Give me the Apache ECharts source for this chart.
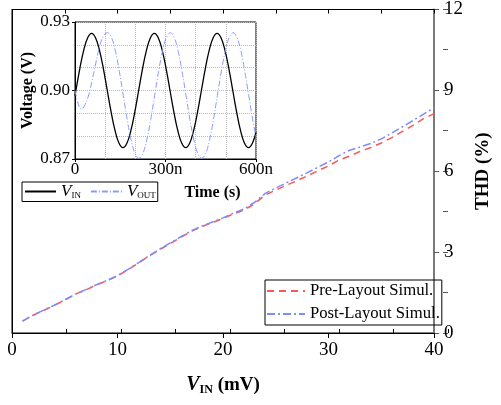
<!DOCTYPE html>
<html><head><meta charset="utf-8">
<script src="https://cdn.jsdelivr.net/npm/echarts@6/dist/echarts.min.js"></script>
<style>html,body{margin:0;padding:0;background:#fff}#c{width:501px;height:405px}</style>
</head><body><div id="c"></div>
<script>
// ---- data ----
const vinMv = [1,2,3,4,5,6,7,8,9,10,11,12,13,14,15,16,17,18,19,20,21,22,23,24,25,26,27,28,29,30,31,32,33,34,35,36,37,38,39,40];
const preLayoutTHD = [0.44,0.66,0.84,1.02,1.22,1.44,1.60,1.78,1.94,2.12,2.35,2.60,2.86,3.10,3.32,3.55,3.77,3.95,4.10,4.25,4.42,4.56,4.80,5.12,5.30,5.48,5.65,5.83,6.02,6.20,6.42,6.56,6.74,6.88,7.05,7.25,7.48,7.70,7.95,8.14];
const postLayoutTHD = [0.44,0.66,0.85,1.03,1.23,1.44,1.61,1.79,1.95,2.13,2.36,2.61,2.87,3.11,3.34,3.57,3.79,3.97,4.12,4.27,4.45,4.60,4.85,5.18,5.38,5.57,5.76,5.95,6.15,6.35,6.58,6.78,6.90,7.03,7.20,7.42,7.65,7.88,8.12,8.36];

const timeInNs = [0,3,16,29,42,55,68,81,94,107,120,133,146,159,172,185,198,211,224,237,250,263,276,289,302,315,328,341,354,367,380,393,406,419,432,445,458,471,484,497,510,523,536,549,562,575,588,600];
const vInVolt = [0.8977,0.900,0.9096,0.9177,0.9231,0.925,0.9231,0.9177,0.9096,0.900,0.8904,0.8823,0.8769,0.875,0.8769,0.8823,0.8904,0.900,0.9096,0.9177,0.9231,0.925,0.9231,0.9177,0.9096,0.900,0.8904,0.8823,0.8769,0.875,0.8769,0.8823,0.8904,0.900,0.9096,0.9177,0.9231,0.925,0.9231,0.9177,0.9096,0.900,0.8904,0.8823,0.8769,0.875,0.8769,0.8818];

const timeOutNs = [0,8,15,22,30,43,56,69,82,95,108,121,134,147,160,173,186,199,212,225,238,251,264,277,290,303,316,329,342,355,368,381,394,407,420,433,446,459,472,485,498,511,524,537,550,563,576,589,600];
const vOutVolt = [0.900,0.8955,0.8925,0.8918,0.893,0.897,0.904,0.912,0.9195,0.924,0.9253,0.9232,0.9172,0.9083,0.8978,0.8873,0.8784,0.8724,0.8703,0.8724,0.8784,0.8873,0.8978,0.9083,0.9172,0.9232,0.9253,0.9232,0.9172,0.9083,0.8978,0.8873,0.8784,0.8724,0.8703,0.8724,0.8784,0.8873,0.8978,0.9083,0.9172,0.9232,0.9253,0.9232,0.9172,0.9083,0.8978,0.8873,0.8795];

// ---- chart ----
const F = 'Liberation Serif';
const pair = (xs, ys) => xs.map((x, i) => [x, ys[i]]);
const chart = echarts.init(document.getElementById('c'), null, {renderer: 'canvas'});

const subRich = {
  v: {fontFamily: F, fontStyle: 'italic', fontSize: 17, color: '#000', lineHeight: 18},
  s: {fontFamily: F, fontSize: 9, color: '#000', verticalAlign: 'bottom', lineHeight: 18}
};
const mainRect = {left: 12, top: 9, width: 436, height: 324};

chart.setOption({
  animation: false,
  backgroundColor: '#fff',
  grid: [
    Object.assign({show: true, borderColor: '#000', borderWidth: 1, backgroundColor: 'transparent'}, mainRect),
    {left: 75, top: 22, width: 181, height: 137, show: true, borderColor: '#000', borderWidth: 1, backgroundColor: '#fff'},
    Object.assign({show: false}, mainRect)
  ],
  xAxis: [
    { // main bottom
      gridIndex: 0, type: 'value', min: 0, max: 40, interval: 10, position: 'bottom',
      axisLine: {show: true, onZero: false, lineStyle: {color: '#000', width: 1}},
      axisTick: {show: true, length: 5, lineStyle: {color: '#000'}},
      axisLabel: {fontFamily: F, fontSize: 19, color: '#000', margin: 8},
      splitLine: {show: false},
      name: '{v|V}{s|IN}{n| (mV)}', nameLocation: 'middle', nameGap: 41,
      nameTextStyle: {
        fontFamily: F, fontWeight: 'bold', fontSize: 19, color: '#000',
        rich: {
          v: {fontFamily: F, fontStyle: 'italic', fontWeight: 'bold', fontSize: 20, color: '#000', lineHeight: 22},
          s: {fontFamily: F, fontWeight: 'bold', fontSize: 12, color: '#000', verticalAlign: 'bottom', lineHeight: 22},
          n: {fontFamily: F, fontWeight: 'bold', fontSize: 19, color: '#000', lineHeight: 22}
        }
      }
    },
    { // main top (inward ticks)
      gridIndex: 0, type: 'value', min: 0, max: 40, interval: 5, position: 'top',
      axisLine: {show: true, onZero: false, lineStyle: {color: '#000', width: 1}},
      axisTick: {show: true, inside: true, length: 4, lineStyle: {color: '#000'}},
      axisLabel: {show: false}, splitLine: {show: false}
    },
    { // inset time axis
      gridIndex: 1, type: 'value', min: 0, max: 600, interval: 300,
      axisLine: {show: true, onZero: false, lineStyle: {color: '#000', width: 1}},
      axisTick: {show: true, length: 3, lineStyle: {color: '#000'}},
      axisLabel: {fontFamily: F, fontSize: 17, color: '#000', margin: 2, formatter: v => v === 0 ? '0' : v + 'n'},
      splitLine: {show: true, lineStyle: {color: '#b8b8b8', type: 'dotted', width: 1}},
      minorTick: {show: false, splitNumber: 3},
      minorSplitLine: {show: true, lineStyle: {color: '#b8b8b8', type: 'dotted', width: 1}},
      name: 'Time (s)', nameLocation: 'middle', nameGap: 26,
      nameTextStyle: {fontFamily: F, fontWeight: 'bold', fontSize: 16, color: '#000', padding: [0, 0, 0, 94]}
    },
    { // main bottom minor inward ticks (overlay grid)
      gridIndex: 2, type: 'value', min: 0, max: 40, interval: 5, position: 'bottom',
      axisLine: {show: false, onZero: false},
      axisTick: {show: true, inside: true, length: 4, lineStyle: {color: '#000'}},
      axisLabel: {show: false}, splitLine: {show: false}
    }
  ],
  yAxis: [
    { // main right THD axis
      gridIndex: 0, type: 'value', min: 0, max: 12, interval: 3, position: 'right',
      axisLine: {show: true, onZero: false, lineStyle: {color: '#7a7a7a', width: 2}},
      axisTick: {show: true, length: 5, lineStyle: {color: '#555', width: 1}},
      axisLabel: {fontFamily: F, fontSize: 19, color: '#000', margin: 10},
      splitLine: {show: false},
      name: 'THD (%)', nameLocation: 'middle', nameRotate: 90, nameGap: 38,
      nameTextStyle: {fontFamily: F, fontWeight: 'bold', fontSize: 19, color: '#000'}
    },
    { // main left spine
      gridIndex: 0, type: 'value', min: 0, max: 12, position: 'left',
      axisLine: {show: true, onZero: false, lineStyle: {color: '#000', width: 1}},
      axisTick: {show: false}, axisLabel: {show: false}, splitLine: {show: false}
    },
    { // inset voltage axis
      gridIndex: 1, type: 'value', min: 0.87, max: 0.93, interval: 0.03,
      axisLine: {show: true, onZero: false, lineStyle: {color: '#000', width: 1}},
      axisTick: {show: true, length: 3, lineStyle: {color: '#000'}},
      axisLabel: {fontFamily: F, fontSize: 17, color: '#000', margin: 5, formatter: v => v.toFixed(2)},
      splitLine: {show: true, lineStyle: {color: '#b8b8b8', type: 'dotted', width: 1}},
      minorTick: {show: false, splitNumber: 3},
      minorSplitLine: {show: true, lineStyle: {color: '#b8b8b8', type: 'dotted', width: 1}},
      name: 'Voltage (V)', nameLocation: 'middle', nameGap: 37,
      nameTextStyle: {fontFamily: F, fontWeight: 'bold', fontSize: 16, color: '#000'}
    },
    { // right minor inward ticks (overlay grid)
      gridIndex: 2, type: 'value', min: 0, max: 12, interval: 1.5, position: 'right',
      axisLine: {show: false, onZero: false},
      axisTick: {show: true, inside: true, length: 5, lineStyle: {color: '#555', width: 1}},
      axisLabel: {show: false}, splitLine: {show: false}
    }
  ],
  legend: [
    {
      orient: 'vertical', left: 265, top: 280,
      data: ['Pre-Layout Simul.', 'Post-Layout Simul.'],
      itemWidth: 38, itemHeight: 12, itemGap: 5,
      padding: [2, 2, 2, 1],
      itemStyle: {opacity: 0},
      borderColor: '#000', borderWidth: 1, borderRadius: 0,
      textStyle: {fontFamily: F, fontSize: 16.7, color: '#000', lineHeight: 18}
    },
    {
      orient: 'horizontal', left: 22, top: 182,
      data: ['VIN', 'VOUT'],
      itemWidth: 31, itemHeight: 10, itemGap: 9,
      padding: [1, 2, 1, 2],
      itemStyle: {opacity: 0},
      borderColor: '#000', borderWidth: 1, borderRadius: 0,
      formatter: n => n === 'VIN' ? '{v|V}{s|IN}' : '{v|V}{s|OUT}',
      textStyle: {fontFamily: F, fontSize: 17, color: '#000', rich: subRich}
    }
  ],
  series: [
    {
      name: 'Pre-Layout Simul.', type: 'line', xAxisIndex: 0, yAxisIndex: 0,
      data: pair(vinMv, preLayoutTHD), symbol: 'none', smooth: false,
      lineStyle: {color: '#ff5555', width: 1.5, type: [7, 5]}, itemStyle: {color: '#ff5555'}, z: 3
    },
    {
      name: 'Post-Layout Simul.', type: 'line', xAxisIndex: 0, yAxisIndex: 0,
      data: pair(vinMv, postLayoutTHD), symbol: 'none', smooth: false,
      lineStyle: {color: '#7c8cff', width: 1.5, type: [8, 3, 2, 3]}, itemStyle: {color: '#7c8cff'}, z: 4
    },
    {
      name: 'VIN', type: 'line', xAxisIndex: 2, yAxisIndex: 2,
      data: pair(timeInNs, vInVolt), symbol: 'none', smooth: 0.4,
      lineStyle: {color: '#000', width: 1.3}, itemStyle: {color: '#000'}
    },
    {
      name: 'VOUT', type: 'line', xAxisIndex: 2, yAxisIndex: 2,
      data: pair(timeOutNs, vOutVolt), symbol: 'none', smooth: 0.4,
      lineStyle: {color: '#8a9bff', width: 1, type: [6, 2, 1, 2]}, itemStyle: {color: '#8a9bff'}
    }
  ]
});
</script>
</body></html>
